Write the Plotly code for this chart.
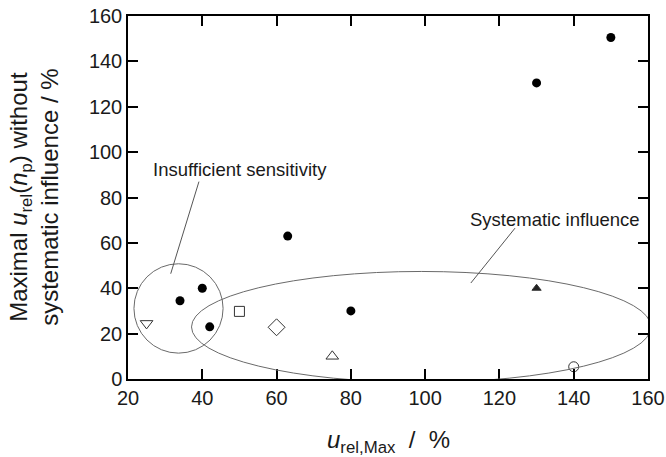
import plotly.graph_objects as go

# --- data ---
filled_x = [34, 40, 42, 63, 80, 130, 150]
filled_y = [34.5, 40, 23, 63, 30, 130.5, 150.5]

open_labels = ["tri_down", "square", "diamond", "tri_up", "tri_up_filled", "circle_open"]
open_x = [25, 50, 60, 75, 130, 140]
open_y = [24.5, 29.8, 22.8, 10, 40, 5.4]
open_symbols = ["triangle-down-open", "square-open", "diamond-open", "triangle-up-open", "triangle-up", "circle-open"]
open_sizes = [11, 10, 13, 11, 8, 10]

x_ticks = [20, 40, 60, 80, 100, 120, 140, 160]
y_ticks = [0, 20, 40, 60, 80, 100, 120, 140, 160]

x_title = "<i>u</i><sub>rel,Max</sub>\u00a0\u00a0/\u00a0\u00a0%"
y_title = "Maximal <i>u</i><sub>rel</sub>(<i>n</i><sub>p</sub>) without<br>systematic influence / %"

# annotation regions (x0, x1, y0, y1) in data units
region_sens = [21.6, 45.6, 11.4, 50.8]
region_sys = [37.1, 160.8, -1.5, 47.4]
# leader lines (x_start, y_start, x_end, y_end)
leader_sens = [39.1, 87.0, 31.5, 46.4]
leader_sys = [124.2, 66.5, 112.3, 42.3]
label_sens = ["Insufficient sensitivity", 26.3, 92.2]
label_sys = ["Systematic influence", 111.6, 70.5]

FONT = "Liberation Sans, Arial, sans-serif"
TXT = "#1a1a1a"

fig = go.Figure()

fig.add_trace(go.Scatter(
    x=filled_x, y=filled_y, mode="markers",
    marker=dict(symbol="circle", size=9, color="black"),
    showlegend=False, hoverinfo="skip"))

for lab, xv, yv, sym, sz in zip(open_labels, open_x, open_y, open_symbols, open_sizes):
    fig.add_trace(go.Scatter(
        x=[xv], y=[yv], mode="markers", name=lab,
        marker=dict(symbol=sym, size=sz, color="#222222" if not sym.endswith("open") else "#333333",
                    line=dict(width=1, color="#333333")),
        showlegend=False, hoverinfo="skip"))

# ellipses
for r in (region_sens, region_sys):
    fig.add_shape(type="circle", xref="x", yref="y",
                  x0=r[0], x1=r[1], y0=r[2], y1=r[3],
                  line=dict(color="#6a6a6a", width=1))

# leader lines
for l in (leader_sens, leader_sys):
    fig.add_shape(type="line", xref="x", yref="y",
                  x0=l[0], y0=l[1], x1=l[2], y1=l[3],
                  line=dict(color="#555555", width=1))

for t, xv, yv in (label_sens, label_sys):
    fig.add_annotation(text=t, x=xv, y=yv, xref="x", yref="y",
                       xanchor="left", yanchor="middle", showarrow=False,
                       font=dict(family=FONT, size=18.5, color=TXT))

# axis titles as annotations for precise placement
fig.add_annotation(text=x_title, xref="paper", yref="paper", x=0.5, y=-0.172,
                   xanchor="center", yanchor="middle", showarrow=False,
                   font=dict(family=FONT, size=24, color=TXT))
fig.add_annotation(text=y_title, xref="paper", yref="paper", x=-0.182, y=0.5,
                   xanchor="center", yanchor="middle", showarrow=False, textangle=-90,
                   font=dict(family=FONT, size=24, color=TXT))

axis_common = dict(
    showline=True, linecolor="black", linewidth=1.5, mirror="ticks",
    ticks="inside", ticklen=10, tickwidth=1.5, tickcolor="black",
    showgrid=False, zeroline=False, automargin=False,
    tickfont=dict(family=FONT, size=20, color=TXT),
)

fig.update_xaxes(range=[20, 160], tickvals=x_ticks, **axis_common)
fig.update_yaxes(range=[0, 160], tickvals=y_ticks, **axis_common)

fig.update_layout(
    width=666, height=457,
    margin=dict(l=128, r=18, t=16, b=78),
    plot_bgcolor="white", paper_bgcolor="white",
    font=dict(family=FONT, color=TXT),
)

fig.write_html("out.html", config={"displayModeBar": False})
